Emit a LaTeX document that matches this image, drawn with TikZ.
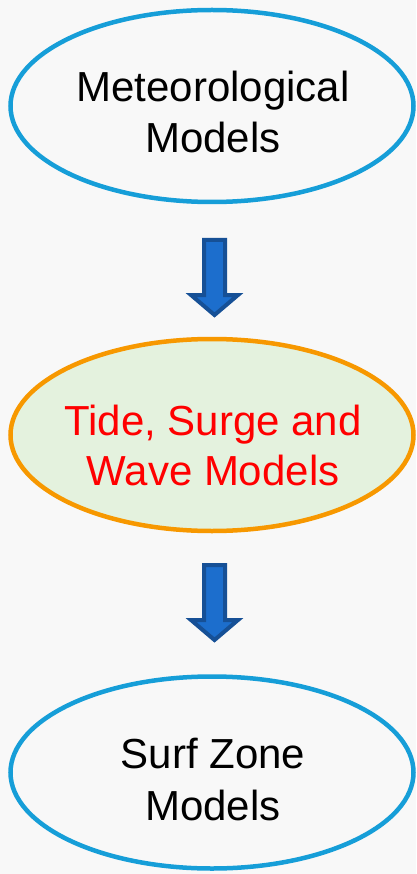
\documentclass[tikz,border=0pt]{standalone}
\usepackage{fontspec}
\setmainfont{Liberation Sans}
\usetikzlibrary{shapes.geometric}

\definecolor{pagebg}{RGB}{248,248,248}
\definecolor{skyblue}{RGB}{22,158,216}
\definecolor{amber}{RGB}{247,152,0}
\definecolor{mint}{RGB}{228,242,222}
\definecolor{arrowfill}{RGB}{28,110,205}
\definecolor{arrowedge}{RGB}{22,80,150}

\begin{document}
\begin{tikzpicture}[x=1pt,y=-1pt,
  model/.style={ellipse, draw, line width=4.5pt, minimum width=403pt,
    minimum height=192pt, inner sep=0pt},
  caption/.style={anchor=base, inner sep=0pt,
    font=\fontsize{42}{50}\selectfont},
  blockarrow/.style={fill=arrowfill, draw=arrowedge, line width=4pt,
    line join=miter}]

% page background and fixed frame
\fill[pagebg] (0,0) rectangle (416,874);
\useasboundingbox (0,0) rectangle (416,874);

% meteorological models
\node[model, draw=skyblue] (met) at (212,106) {};
\node[caption] (met1) at (213,102) {Meteorological};
\node[caption] (met2) at (213,153) {Models};

% tide, surge and wave models
\node[model, draw=amber, fill=mint] (tide) at (212,435) {};
\node[caption, text=red] (tide1) at (213,435) {Tide, Surge and};
\node[caption, text=red] (tide2) at (213,485) {Wave Models};

% surf zone models
\node[model, draw=skyblue] (surf) at (212,772.5) {};
\node[caption] (surf1) at (213,768) {Surf Zone};
\node[caption] (surf2) at (213,820) {Models};

% block arrows between the stages
\coordinate (a1) at (214.5,240);
\coordinate (a2) at (214.5,565);
\draw[blockarrow] (a1) ++(-10.5,0) -- ++(21,0) -- ++(0,55) -- ++(13,0)
  -- ++(-23.5,20) -- ++(-23.5,-20) -- ++(13,0) -- cycle;
\draw[blockarrow] (a2) ++(-10.5,0) -- ++(21,0) -- ++(0,55) -- ++(13,0)
  -- ++(-23.5,20) -- ++(-23.5,-20) -- ++(13,0) -- cycle;
\end{tikzpicture}
\end{document}
